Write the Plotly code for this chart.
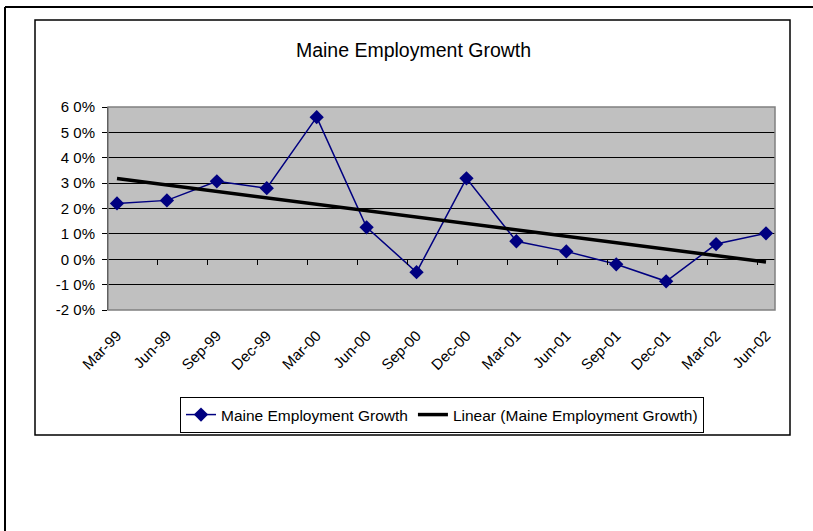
import numpy as np
import plotly.graph_objects as go

# Quarterly labels and year-over-year employment growth (%)
quarters = ["Mar-99", "Jun-99", "Sep-99", "Dec-99", "Mar-00", "Jun-00", "Sep-00",
            "Dec-00", "Mar-01", "Jun-01", "Sep-01", "Dec-01", "Mar-02", "Jun-02"]
growth = [2.20, 2.32, 3.07, 2.80, 5.60, 1.26, -0.51,
          3.19, 0.71, 0.31, -0.20, -0.87, 0.60, 1.02]

y_tick_vals = [-2, -1, 0, 1, 2, 3, 4, 5, 6]
y_tick_text = ["-2 0%", "-1 0%", "0 0%", "1 0%", "2 0%", "3 0%", "4 0%", "5 0%", "6 0%"]

series_name = "Maine Employment Growth"
trend_name = "Linear (Maine Employment Growth)"

W, H = 813, 531
L, R, T, B = 108, 775, 107, 310  # plot-area edges in pixels

FONT = "Liberation Sans, Arial, sans-serif"

xs = np.arange(len(quarters))
slope, intercept = np.polyfit(xs, growth, 1)
trend = slope * xs + intercept

x_lo, x_hi = -0.18, len(quarters) - 1 + 0.18
y_lo, y_hi = -2, 6


def px_x(p):
    return (p - L) / (R - L)


def px_y(p):
    return (B - p) / (B - T)


fig = go.Figure()

fig.add_trace(go.Scatter(
    x=xs, y=growth, name=series_name, mode="lines+markers",
    line=dict(color="#000080", width=1.5),
    marker=dict(symbol="diamond", size=11, color="#000080"),
))

fig.add_trace(go.Scatter(
    x=xs, y=trend, name=trend_name, mode="lines",
    line=dict(color="#000000", width=3.5),
    xaxis="x2",
))

shapes = [
    # plot-area frame
    dict(type="rect", xref="paper", yref="paper", x0=0, x1=1, y0=0, y1=1,
         line=dict(color="#808080", width=1.5), layer="above"),
    # chart frame
    dict(type="rect", xref="paper", yref="paper",
         x0=px_x(35), x1=px_x(790), y0=px_y(435), y1=px_y(20),
         line=dict(color="#000000", width=1.5)),
    # page edges
    dict(type="line", xref="paper", yref="paper",
         x0=px_x(5), x1=px_x(813), y0=px_y(7), y1=px_y(7),
         line=dict(color="#000000", width=2)),
    dict(type="line", xref="paper", yref="paper",
         x0=px_x(5), x1=px_x(5), y0=px_y(7), y1=px_y(531),
         line=dict(color="#000000", width=2)),
]

fig.update_layout(
    width=W, height=H,
    margin=dict(l=L, r=W - R, t=T, b=H - B),
    paper_bgcolor="white",
    plot_bgcolor="#C0C0C0",
    font=dict(family=FONT, size=15, color="black"),
    title=dict(text="Maine Employment Growth", xref="container", yref="container",
               x=413.5 / W, y=1 - 50 / H, xanchor="center", yanchor="middle",
               font=dict(family=FONT, size=19.5, color="black")),
    showlegend=True,
    legend=dict(orientation="h", xref="paper", yref="paper",
                x=px_x(442), y=px_y(415), xanchor="center", yanchor="middle",
                bgcolor="white", bordercolor="black", borderwidth=1,
                font=dict(family=FONT, size=15.5), itemwidth=30,
                tracegroupgap=0),
    xaxis=dict(
        range=[x_lo, x_hi], tickmode="array", tickvals=list(xs), ticktext=quarters,
        tickangle=-45, ticks="outside", ticklen=10, tickcolor="rgba(0,0,0,0)",
        showgrid=False, zeroline=False, showline=False,
        tickfont=dict(family=FONT, size=15),
    ),
    # category tick marks drawn along the 0% line
    xaxis2=dict(
        overlaying="x", anchor="free", position=(0 - y_lo) / (y_hi - y_lo),
        range=[x_lo, x_hi], tickmode="array",
        tickvals=[k + 1 + x_lo for k in range(len(quarters) - 1)],
        ticks="outside", ticklen=5, tickcolor="black", tickwidth=1,
        showticklabels=False, showgrid=False, zeroline=False, showline=False,
        side="bottom",
    ),
    yaxis=dict(
        range=[y_lo, y_hi], tickmode="array", tickvals=y_tick_vals, ticktext=y_tick_text,
        ticks="outside", ticklen=5, tickcolor="black", tickwidth=1,
        showline=True, linecolor="black", linewidth=1,
        showgrid=True, gridcolor="black", gridwidth=1, zeroline=False,
        ticklabelstandoff=4, tickfont=dict(family=FONT, size=15),
    ),
    shapes=shapes,
)

fig.write_html("out.html")
